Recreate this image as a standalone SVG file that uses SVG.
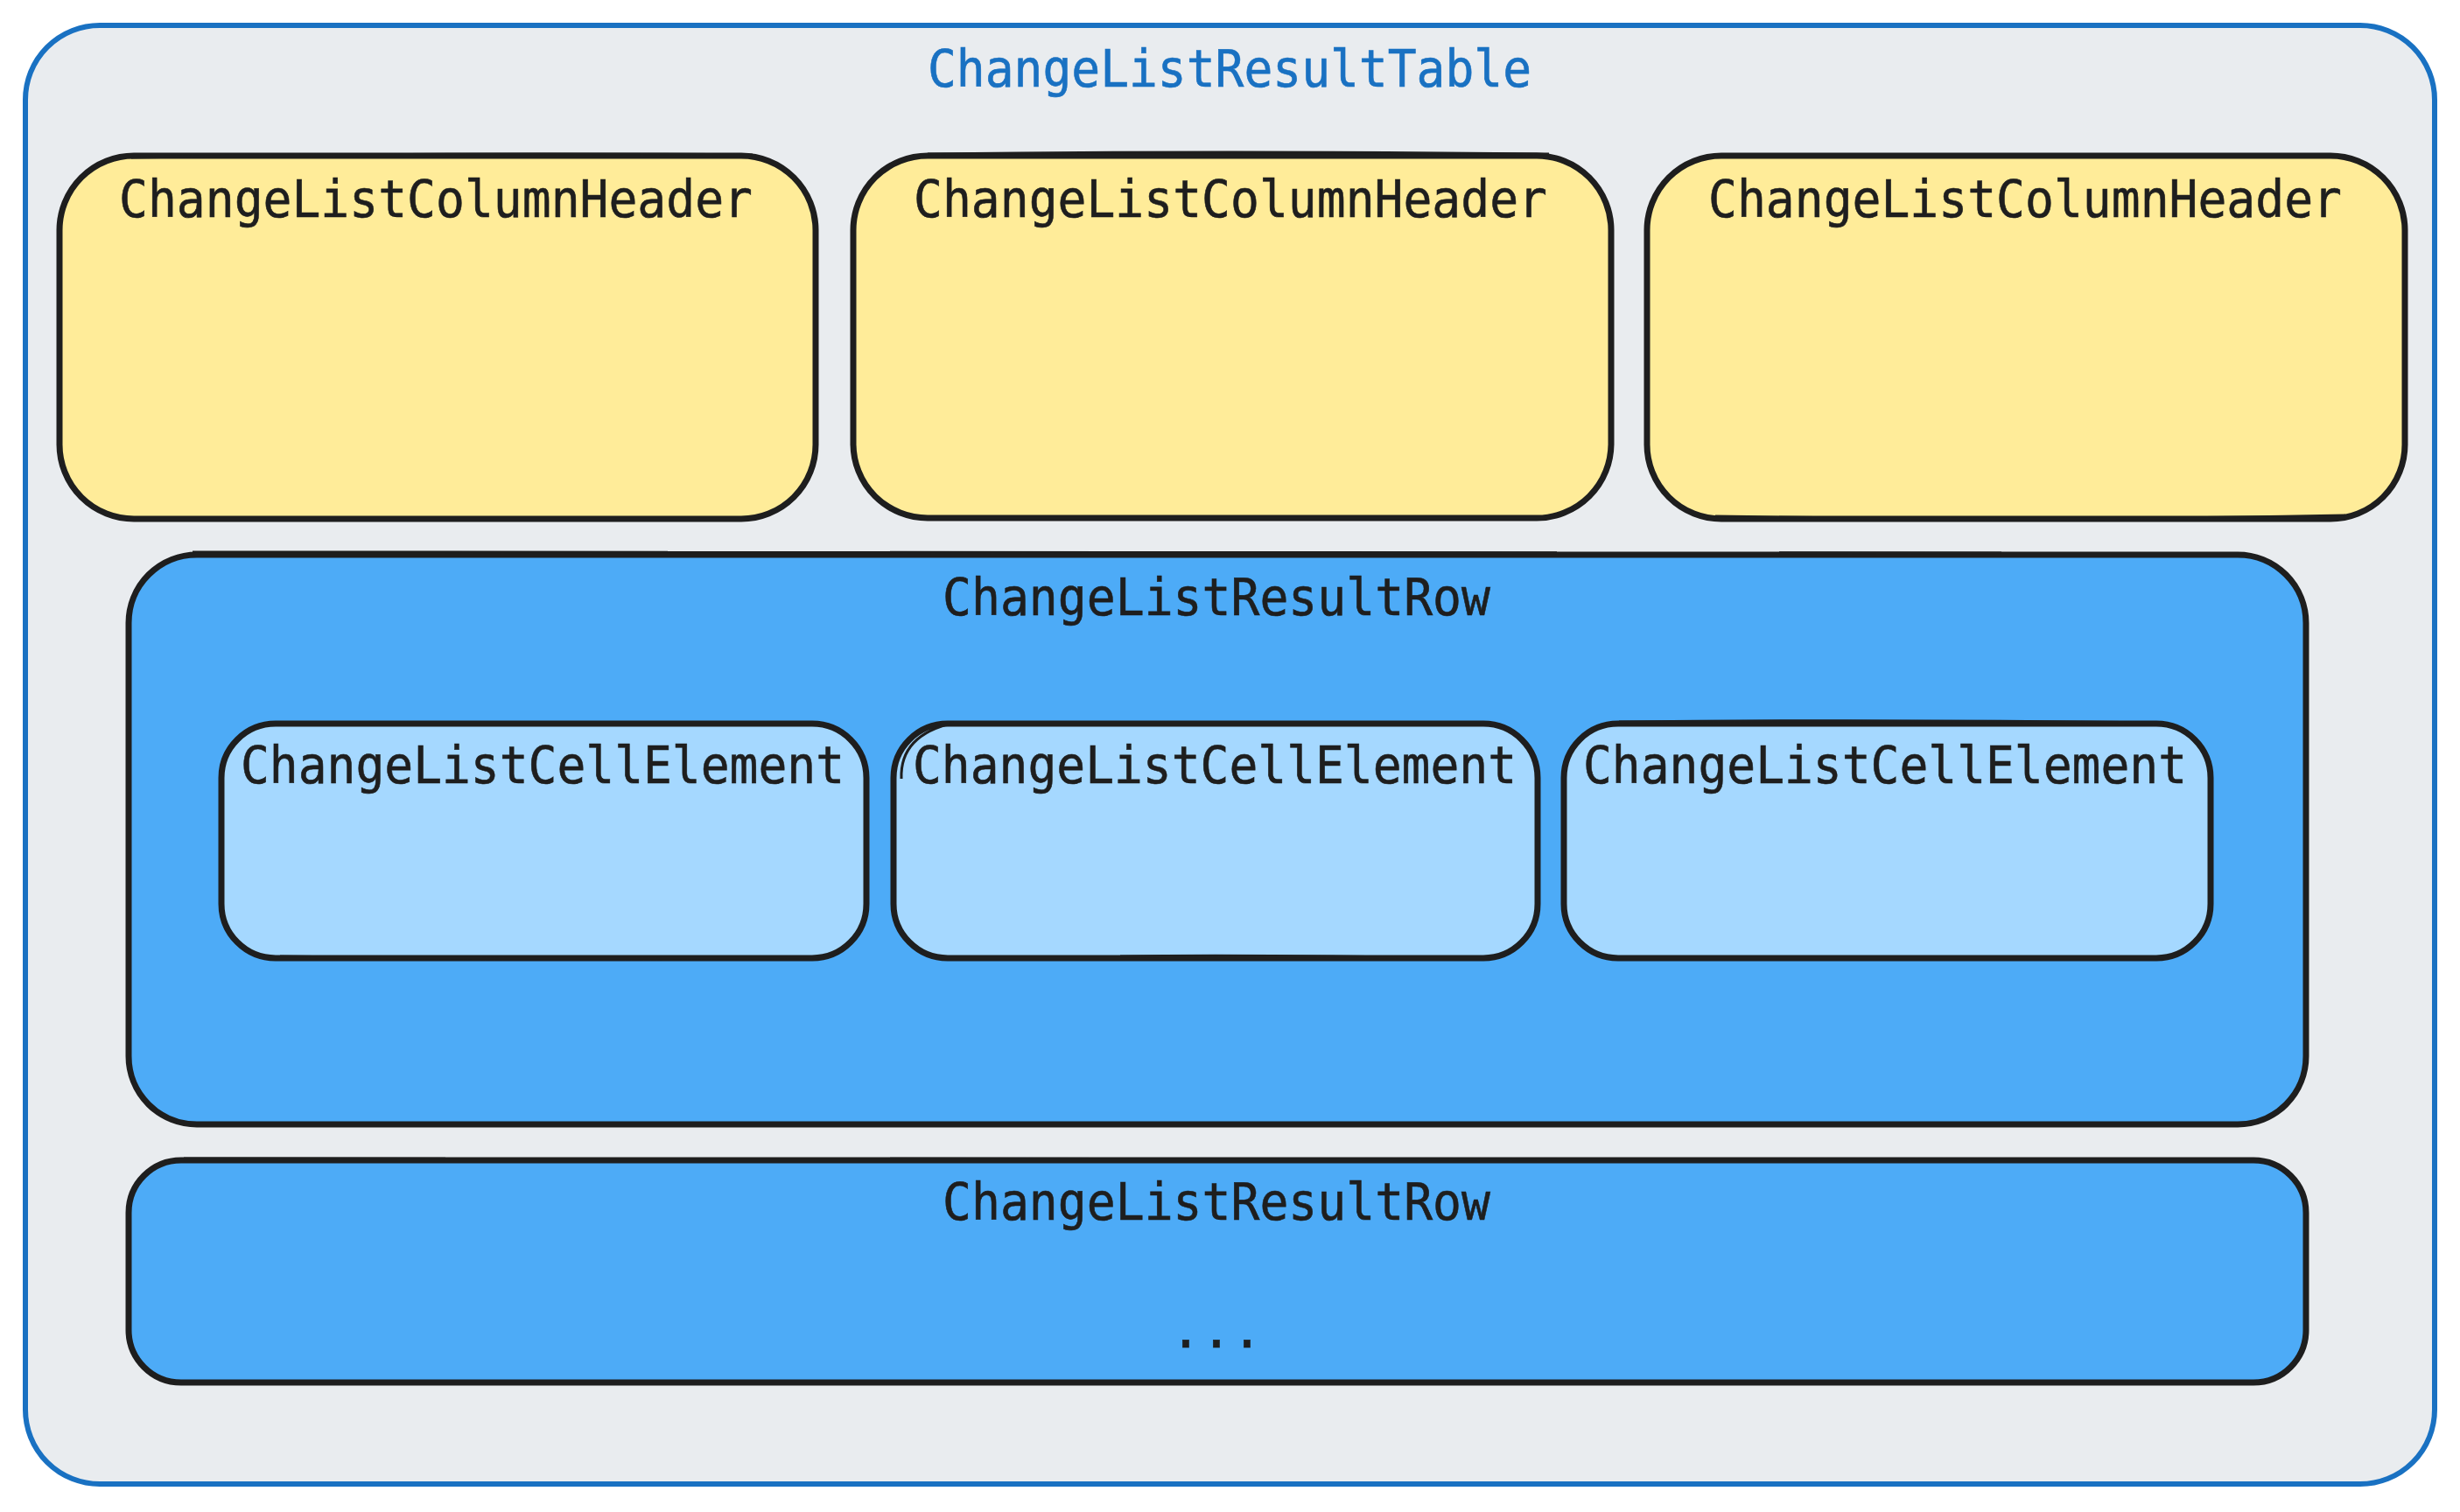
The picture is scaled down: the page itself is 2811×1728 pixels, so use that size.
<svg xmlns="http://www.w3.org/2000/svg" width="2811" height="1728" viewBox="0 0 2811 1728">
  <style>
    .lbl { font-family: "DejaVu Sans Mono", "Liberation Mono", monospace; font-size: 58px; fill: #1e1e1e; text-anchor: middle; stroke: #1e1e1e; stroke-width: 0.6; }
    .title { fill: #1971c2; stroke: #1971c2; }
    .box { stroke: #1e1e1e; stroke-width: 7; stroke-linejoin: round; }
    .hdr { fill: #ffec99; }
    .row { fill: #4dabf7; }
    .cell { fill: #a5d8ff; }
    .sk { fill: none; stroke: #1e1e1e; stroke-width: 3; }
  </style>
  <rect width="2811" height="1728" fill="#ffffff"/>

  <g id="table">
    <rect x="29" y="29" width="2753" height="1667" rx="85" ry="85" fill="#e9ecef" stroke="#1971c2" stroke-width="6"/>
    <text class="lbl title" x="1405" y="99" textLength="690" lengthAdjust="spacingAndGlyphs">ChangeListResultTable</text>
  </g>

  <g id="header1">
    <rect class="box hdr" x="68" y="178" width="864" height="415" rx="85" ry="85"/>
    <path class="sk" d="M150 180 Q500 174 860 177"/>
    <text class="lbl" x="498" y="248" textLength="724" lengthAdjust="spacingAndGlyphs">ChangeListColumnHeader</text>
  </g>
  <g id="header2">
    <rect class="box hdr" x="975" y="178" width="866" height="414" rx="85" ry="85"/>
    <path class="sk" d="M1060 176 Q1400 172 1770 176"/>
    <text class="lbl" x="1406" y="248" textLength="724" lengthAdjust="spacingAndGlyphs">ChangeListColumnHeader</text>
  </g>
  <g id="header3">
    <rect class="box hdr" x="1882" y="178" width="866" height="415" rx="85" ry="85"/>
    <path class="sk" d="M1960 590 Q2300 596 2680 589"/>
    <text class="lbl" x="2314" y="248" textLength="724" lengthAdjust="spacingAndGlyphs">ChangeListColumnHeader</text>
  </g>

  <g id="row1">
    <rect class="box row" x="147" y="634" width="2488" height="651" rx="78" ry="78"/>
    <path class="sk" d="M220 631 Q1400 628 2560 632"/>
    <text class="lbl" x="1390" y="703" textLength="626" lengthAdjust="spacingAndGlyphs">ChangeListResultRow</text>
  </g>

  <g id="cell1">
    <rect class="box cell" x="253" y="827" width="737" height="268" rx="62" ry="62"/>
    <path class="sk" d="M320 1093 Q620 1098 930 1094"/>
    <text class="lbl" x="620" y="895" textLength="690" lengthAdjust="spacingAndGlyphs">ChangeListCellElement</text>
  </g>
  <g id="cell2">
    <rect class="box cell" x="1021" y="827" width="736" height="268" rx="62" ry="62"/>
    <path class="sk" d="M1030 890 Q1028 840 1090 826"/>
    <path class="sk" d="M1280 1093 Q1400 1091 1600 1094"/>
    <text class="lbl" x="1388" y="895" textLength="690" lengthAdjust="spacingAndGlyphs">ChangeListCellElement</text>
  </g>
  <g id="cell3">
    <rect class="box cell" x="1787" y="827" width="739" height="268" rx="62" ry="62"/>
    <path class="sk" d="M1850 825 Q2150 822 2470 826"/>
    <text class="lbl" x="2154" y="895" textLength="690" lengthAdjust="spacingAndGlyphs">ChangeListCellElement</text>
  </g>

  <g id="row2">
    <rect class="box row" x="147" y="1326" width="2488" height="254" rx="60" ry="60"/>
    <path class="sk" d="M210 1324 Q1400 1321 2570 1325"/>
    <text class="lbl" x="1390" y="1394" textLength="626" lengthAdjust="spacingAndGlyphs">ChangeListResultRow</text>
    <text class="lbl" x="1390" y="1540">...</text>
  </g>

  <g id="connectors"/>
</svg>
